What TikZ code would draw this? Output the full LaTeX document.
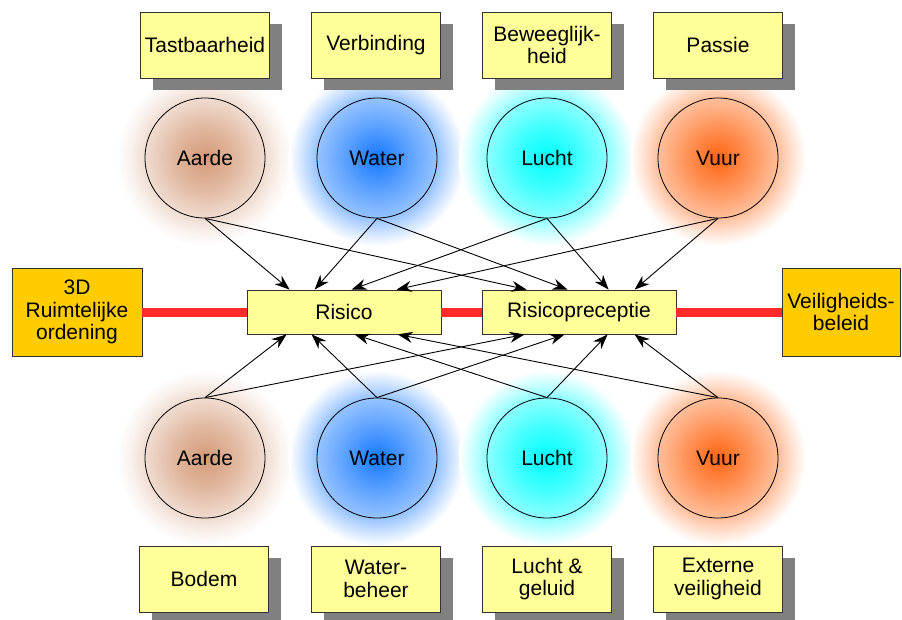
\documentclass[tikz,border=0pt]{standalone}
\usepackage{fontspec}
\setmainfont{Liberation Sans}
\usetikzlibrary{arrows.meta,shadows,calc}
\definecolor{yfill}{HTML}{FFFF99}
\definecolor{ofill}{HTML}{FFCC00}
\definecolor{redline}{HTML}{FF2A2A}
\definecolor{cA}{HTML}{D49A78}
\definecolor{cW}{HTML}{1478FF}
\definecolor{cL}{HTML}{00FFFF}
\definecolor{cV}{HTML}{FF6410}
\pgfdeclareradialshading{glowA}{\pgfpoint{0bp}{0bp}}{color(0bp)=(cA); color(9bp)=(cA!70!white); color(17bp)=(cA!35!white); color(21bp)=(cA!15!white); color(25bp)=(white); color(50bp)=(white)}
\pgfdeclareradialshading{glowW}{\pgfpoint{0bp}{0bp}}{color(0bp)=(cW); color(9bp)=(cW!70!white); color(17bp)=(cW!45!white); color(21bp)=(cW!22!white); color(25bp)=(white); color(50bp)=(white)}
\pgfdeclareradialshading{glowL}{\pgfpoint{0bp}{0bp}}{color(0bp)=(cL); color(9bp)=(cL!75!white); color(17bp)=(cL!45!white); color(21bp)=(cL!22!white); color(25bp)=(white); color(50bp)=(white)}
\pgfdeclareradialshading{glowV}{\pgfpoint{0bp}{0bp}}{color(0bp)=(cV); color(9bp)=(cV!70!white); color(17bp)=(cV!42!white); color(21bp)=(cV!20!white); color(25bp)=(white); color(50bp)=(white)}
\begin{document}
\begin{tikzpicture}[x=1pt,y=-1pt,
  every node/.style={font=\fontsize{21}{22.5}\selectfont, text=black},
  ybox/.style={draw=black!80, line width=0.8pt, fill=yfill, minimum width=129pt, minimum height=66pt, align=center, inner sep=0pt,
     drop shadow={shadow xshift=12pt, shadow yshift=-12pt, fill=black!50, opacity=1}},
  obox/.style={draw=black!80, line width=0.8pt, fill=ofill, minimum height=88pt, align=center, inner sep=0pt},
  cbox/.style={draw=black!80, line width=0.8pt, fill=yfill, minimum width=194pt, minimum height=44pt, inner sep=0pt},
  elem/.style={draw=black, line width=0.8pt, circle, minimum size=120pt, inner sep=0pt},
  conn/.style={line width=0.9pt, -{Stealth[length=15pt,width=11pt]}},
  thick red/.style={draw=redline, line width=9pt}]
\useasboundingbox (0,0) rectangle (902,619);
% glows
\shade[shading=glowA] (205,158) circle (88pt);
\shade[shading=glowW] (377,158) circle (88pt);
\shade[shading=glowL] (547,158) circle (88pt);
\shade[shading=glowV] (718,158) circle (88pt);
\shade[shading=glowA] (205,458) circle (88pt);
\shade[shading=glowW] (377,458) circle (88pt);
\shade[shading=glowL] (547,458) circle (88pt);
\shade[shading=glowV] (718,458) circle (88pt);
% top boxes
\node[ybox] (t1) at (205,45) {Tastbaarheid};
\node[ybox] (t2) at (376,45) {Verbinding};
\node[ybox] (t3) at (547,45) {Beweeglijk-\\heid};
\node[ybox] (t4) at (718,45) {Passie};
% bottom boxes
\node[ybox] (b1) at (204,579) {Bodem};
\node[ybox] (b2) at (376,579) {Water-\\beheer};
\node[ybox] (b3) at (547,579) {Lucht \&\\geluid};
\node[ybox] (b4) at (718,579) {Externe\\veiligheid};
% circles
\node[elem] (ta) at (205,158) {Aarde};
\node[elem] (tw) at (377,158) {Water};
\node[elem] (tl) at (547,158) {Lucht};
\node[elem] (tv) at (718,158) {Vuur};
\node[elem] (ba) at (205,458) {Aarde};
\node[elem] (bw) at (377,458) {Water};
\node[elem] (bl) at (547,458) {Lucht};
\node[elem] (bv) at (718,458) {Vuur};
% side boxes
\node[obox, minimum width=130pt] (sd) at (77,312) {3D\\Ruimtelijke\\ordening};
\node[obox, minimum width=118pt] (vb) at (841,312) {Veiligheids-\\beleid};
% centre boxes
\node[cbox] (ri) at (344,312) {Risico};
\node[cbox] (rp) at (579,312) {Risicopreceptie};
% red lines
\draw[thick red] (sd.east) -- (ri.west);
\draw[thick red] (ri.east) -- (rp.west);
\draw[thick red] (rp.east) -- (vb.west);
% top arrows
\draw[conn] (ta.south) -- ($(ri.north west)+(43,0)$);
\draw[conn] (tw.south) -- ($(ri.north west)+(68,0)$);
\draw[conn] (tl.south) -- ($(ri.north west)+(105,0)$);
\draw[conn] (tv.south) -- ($(ri.north west)+(150,0)$);
\draw[conn] (ta.south) -- ($(rp.north west)+(45,0)$);
\draw[conn] (tw.south) -- ($(rp.north west)+(86,0)$);
\draw[conn] (tl.south) -- ($(rp.north west)+(127,0)$);
\draw[conn] (tv.south) -- ($(rp.north west)+(153,0)$);
% bottom arrows
\draw[conn] (ba.north) -- ($(ri.south west)+(40,0)$);
\draw[conn] (bw.north) -- ($(ri.south west)+(65,0)$);
\draw[conn] (bl.north) -- ($(ri.south west)+(108,0)$);
\draw[conn] (bv.north) -- ($(ri.south west)+(151,0)$);
\draw[conn] (ba.north) -- ($(rp.south west)+(43,0)$);
\draw[conn] (bw.north) -- ($(rp.south west)+(83,0)$);
\draw[conn] (bl.north) -- ($(rp.south west)+(126,0)$);
\draw[conn] (bv.north) -- ($(rp.south west)+(153,0)$);
\end{tikzpicture}
\end{document}
